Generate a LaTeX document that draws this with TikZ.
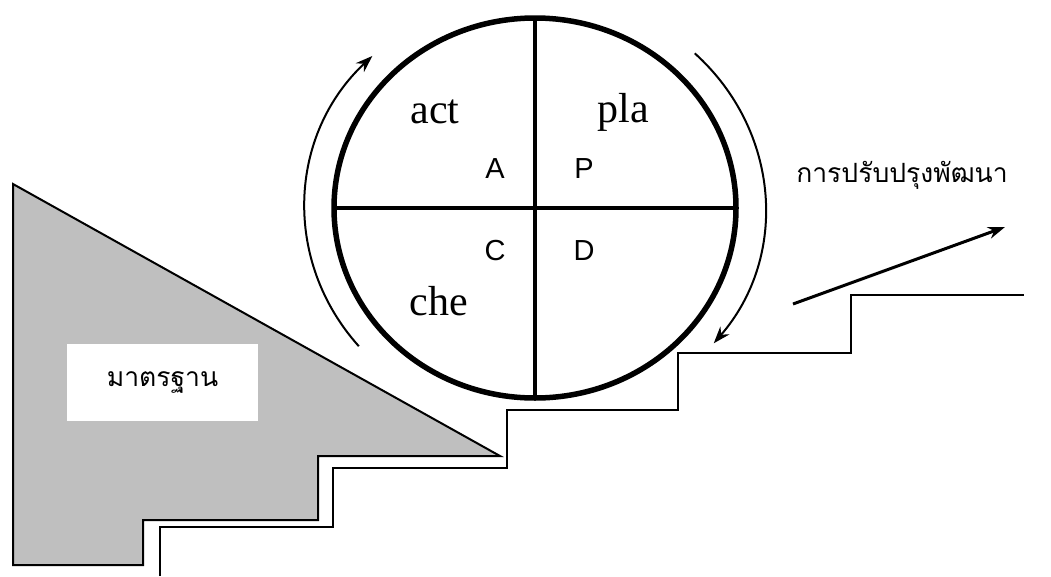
\documentclass[tikz,border=0pt]{standalone}
\usepackage{fontspec}
\setmainfont{Liberation Serif}
\newfontfamily\arialfont{Liberation Sans}
\newfontfamily\thaifont[Script=Thai]{Loma}
\usetikzlibrary{arrows.meta}

\begin{document}
\begin{tikzpicture}[x=1pt,y=-1pt]
\useasboundingbox (0,0) rectangle (1051,576);
% standard block
\draw[line width=2pt,fill=black!25] (13,184) -- (500,456) -- (318,456) -- (318,520) -- (143,520) -- (143,565) -- (13,565) -- cycle;
\node[fill=white,minimum width=191pt,minimum height=77pt,inner sep=0pt] (std) at (162.5,382.5) {\thaifont\fontsize{26.5}{30}\selectfont มาตรฐาน};
% stairs
\draw[line width=2pt] (160,576) -- (160,527) -- (333,527) -- (333,468) -- (507,468) -- (507,410) -- (678,410) -- (678,353) -- (851,353) -- (851,295) -- (1024,295);
% pdca wheel
\coordinate (c) at (535,208);
\draw[line width=5.5pt] (c) ellipse[x radius=201,y radius=190];
\draw[line width=4pt] (535,18) -- (535,398);
\draw[line width=4pt] (334,208) -- (736,208);
\node[anchor=base] (act) at (435,123) {\fontsize{42}{48}\selectfont act};
\node[anchor=base] (pla) at (623,122) {\fontsize{42}{48}\selectfont pla};
\node[anchor=base] (che) at (439,315) {\fontsize{42}{48}\selectfont che};
\node[anchor=base] (A) at (495,178) {\arialfont\fontsize{29}{34}\selectfont A};
\node[anchor=base] (P) at (584,178) {\arialfont\fontsize{29}{34}\selectfont P};
\node[anchor=base] (C) at (495,260) {\arialfont\fontsize{29}{34}\selectfont C};
\node[anchor=base] (D) at (584,260) {\arialfont\fontsize{29}{34}\selectfont D};
% cycle arrows
\draw[line width=2pt,-{Stealth[length=17pt,width=12pt]}] ([shift={(140:230 and 215)}]c) arc[start angle=140,end angle=225,x radius=230,y radius=215];
\draw[line width=2pt,-{Stealth[length=17pt,width=12pt]}] ([shift={(-46:230 and 215)}]c) arc[start angle=-46,end angle=39,x radius=230,y radius=215];
% improvement
\node[anchor=base] (imp) at (902,182) {\thaifont\fontsize{26.5}{30}\selectfont การปรับปรุงพัฒนา};
\coordinate (up0) at (793,304);
\coordinate (up1) at (1005,227);
\draw[line width=3pt,-{Stealth[length=17pt,width=12pt]}] (up0) -- (up1);
\end{tikzpicture}
\end{document}
